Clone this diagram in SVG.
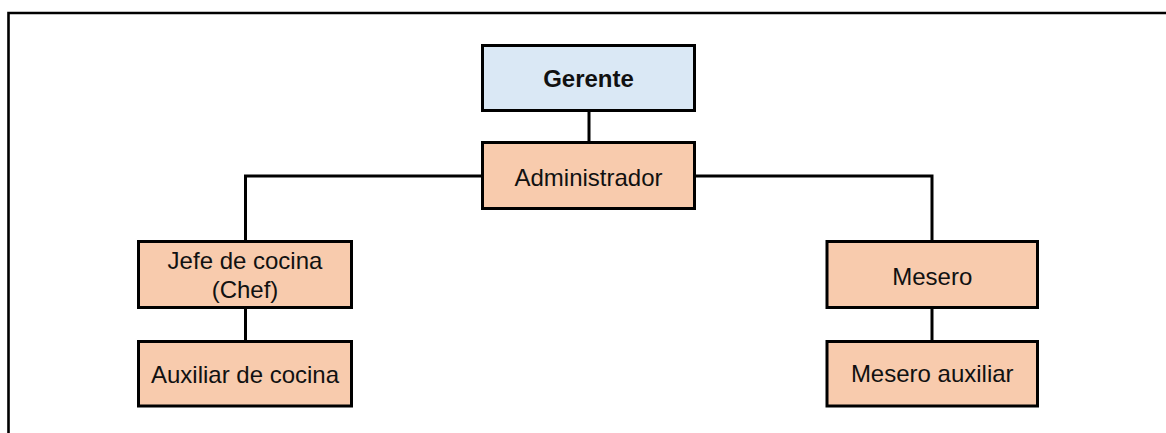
<svg xmlns="http://www.w3.org/2000/svg" width="1166" height="433" viewBox="0 0 1166 433">
  <style>
    .box { stroke: #000; stroke-width: 3; }
    .top { fill: #dae8f5; }
    .staff { fill: #f8cbad; }
    .label { font-family: "Liberation Sans", Arial, sans-serif; font-size: 24px; fill: #111; text-anchor: middle; }
    .bold { font-weight: bold; }
    .link { fill: none; stroke: #000; stroke-width: 3; }
  </style>
  <rect x="0" y="0" width="1166" height="433" fill="#fff"/>
  <!-- page frame -->
  <path d="M8.5 433 V13 H1166" fill="none" stroke="#000" stroke-width="2.6"/>

  <g id="connectors">
    <line class="link" x1="589" y1="110.5" x2="589" y2="142.5"/>
    <polyline class="link" points="482.5,176 245.5,176 245.5,241.5"/>
    <polyline class="link" points="694.5,176 932,176 932,241.5"/>
    <line class="link" x1="245.5" y1="307.5" x2="245.5" y2="341.5"/>
    <line class="link" x1="932" y1="307.5" x2="932" y2="341.5"/>
  </g>

  <g id="gerente">
    <rect class="box top" x="482.5" y="45.5" width="212" height="65"/>
    <text class="label bold" x="588.5" y="86.5">Gerente</text>
  </g>
  <g id="administrador">
    <rect class="box staff" x="482.5" y="142.5" width="212" height="66"/>
    <text class="label" x="588.5" y="185.5">Administrador</text>
  </g>
  <g id="jefe-cocina">
    <rect class="box staff" x="138.5" y="241.5" width="213" height="66"/>
    <text class="label" x="245" y="269">Jefe de cocina</text>
    <text class="label" x="245" y="297.5">(Chef)</text>
  </g>
  <g id="auxiliar-cocina">
    <rect class="box staff" x="138.5" y="341.5" width="213" height="64.5"/>
    <text class="label" x="245" y="382.5">Auxiliar de cocina</text>
  </g>
  <g id="mesero">
    <rect class="box staff" x="827" y="241.5" width="210.5" height="66"/>
    <text class="label" x="932.25" y="284.5">Mesero</text>
  </g>
  <g id="mesero-auxiliar">
    <rect class="box staff" x="827" y="341.5" width="210.5" height="64.5"/>
    <text class="label" x="932.25" y="382">Mesero auxiliar</text>
  </g>
</svg>
